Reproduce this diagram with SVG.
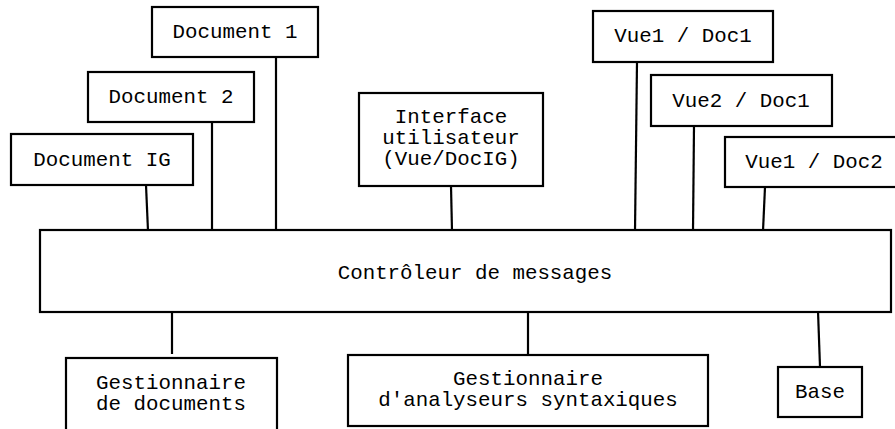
<svg xmlns="http://www.w3.org/2000/svg" width="895" height="429" viewBox="0 0 895 429">
  <style>
    .box { fill: #fff; stroke: #000; stroke-width: 2.2; }
    .wire { fill: none; stroke: #000; stroke-width: 2.2; }
    text { font-family: "Liberation Mono", "Courier New", monospace; font-size: 20.8px; fill: #000; text-anchor: middle; }
  </style>
  <rect width="895" height="429" fill="#fff"/>

  <!-- links between the modules and the message controller -->
  <g id="connectors">
    <line class="wire" x1="146" y1="185" x2="148" y2="231"/>
    <line class="wire" x1="212" y1="122" x2="212" y2="231"/>
    <line class="wire" x1="276" y1="57" x2="276" y2="231"/>
    <line class="wire" x1="451" y1="186" x2="452" y2="231"/>
    <line class="wire" x1="637" y1="62" x2="635" y2="231"/>
    <line class="wire" x1="694" y1="126" x2="693" y2="231"/>
    <line class="wire" x1="765" y1="187" x2="763" y2="231"/>
    <line class="wire" x1="172" y1="311" x2="172" y2="354"/>
    <line class="wire" x1="528" y1="311" x2="528" y2="354"/>
    <line class="wire" x1="818" y1="311" x2="820" y2="367"/>
  </g>

  <g id="document-1">
    <rect class="box" x="152" y="7" width="166" height="50"/>
    <text x="235" y="38">Document 1</text>
  </g>
  <g id="document-2">
    <rect class="box" x="88" y="72" width="166" height="50"/>
    <text x="171" y="103">Document 2</text>
  </g>
  <g id="document-ig">
    <rect class="box" x="11" y="134" width="182" height="51"/>
    <text x="102" y="166">Document IG</text>
  </g>
  <g id="interface">
    <rect class="box" x="359" y="93" width="184" height="93"/>
    <text x="451" y="123">Interface</text>
    <text x="451" y="144">utilisateur</text>
    <text x="451" y="165">(Vue/DocIG)</text>
  </g>
  <g id="vue1-doc1">
    <rect class="box" x="593" y="11" width="180" height="51"/>
    <text x="683" y="42">Vue1 / Doc1</text>
  </g>
  <g id="vue2-doc1">
    <rect class="box" x="651" y="75" width="181" height="51"/>
    <text x="741" y="107">Vue2 / Doc1</text>
  </g>
  <g id="vue1-doc2">
    <rect class="box" x="725" y="137" width="180" height="50"/>
    <text x="814" y="168">Vue1 / Doc2</text>
  </g>
  <g id="controleur">
    <rect class="box" x="40" y="230" width="851" height="82"/>
    <text x="475" y="279">Contrôleur de messages</text>
  </g>
  <g id="gestionnaire-documents">
    <rect class="box" x="66" y="358" width="211" height="80"/>
    <text x="171" y="389">Gestionnaire</text>
    <text x="171" y="410">de documents</text>
  </g>
  <g id="gestionnaire-analyseurs">
    <rect class="box" x="348" y="355" width="360" height="71"/>
    <text x="528" y="385">Gestionnaire</text>
    <text x="528" y="406">d'analyseurs syntaxiques</text>
  </g>
  <g id="base">
    <rect class="box" x="778" y="367" width="84" height="50"/>
    <text x="820" y="398">Base</text>
  </g>
</svg>
